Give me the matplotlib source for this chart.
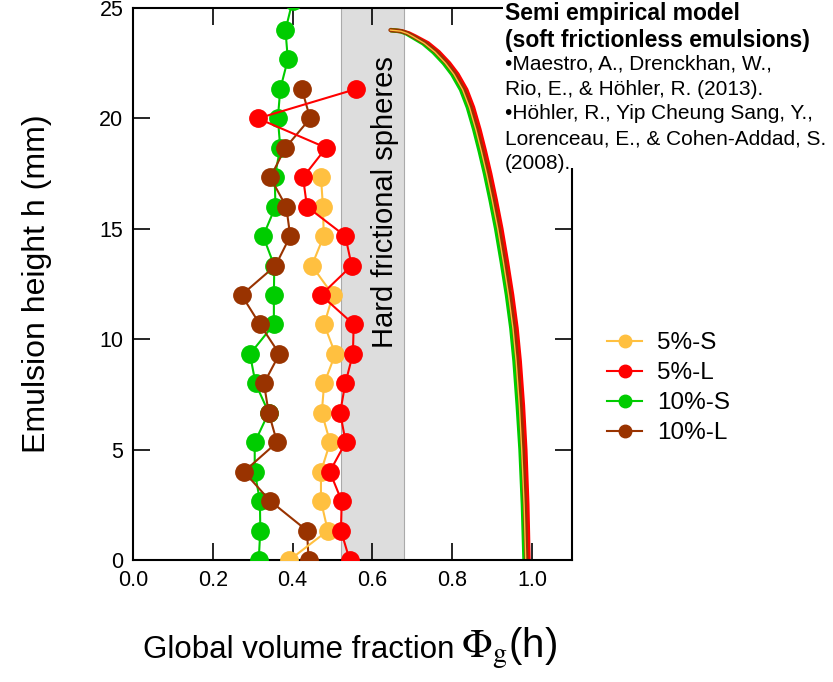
import numpy as np
import matplotlib
matplotlib.use('Agg')
import matplotlib.pyplot as plt
from matplotlib.lines import Line2D
from matplotlib.patches import Rectangle

plt.rcParams['font.family'] = ['Liberation Sans', 'DejaVu Sans']
plt.rcParams['mathtext.fontset'] = 'stix'

# measured heights (mm), one point every 4/3 mm
H = [0.0, 1.33, 2.67, 4.0, 5.33, 6.67, 8.0, 9.33, 10.67, 12.0, 13.33, 14.67,
     16.0, 17.33, 18.67, 20.0, 21.33, 22.67, 24.0, 25.33]

PHI_5S = [0.392, 0.488, 0.471, 0.471, 0.494, 0.473, 0.479, 0.507, 0.479, 0.501,
          0.448, 0.478, 0.476, 0.471]
PHI_5L = [0.543, 0.521, 0.523, 0.493, 0.533, 0.519, 0.532, 0.551, 0.553, 0.471,
          0.548, 0.532, 0.436, 0.426, 0.484, 0.313, 0.559]
PHI_10S = [0.315, 0.319, 0.318, 0.305, 0.305, 0.340, 0.307, 0.293, 0.353, 0.353,
           0.354, 0.326, 0.357, 0.355, 0.369, 0.363, 0.369, 0.388, 0.382, 0.400]
PHI_10L = [0.440, 0.436, 0.344, 0.278, 0.361, 0.340, 0.328, 0.367, 0.318, 0.272,
           0.357, 0.394, 0.384, 0.344, 0.382, 0.444, 0.423]

# semi empirical model curves
H_MODEL = [24.0, 23.95, 23.85, 23.7, 23.4, 23.0, 22.5, 22.0, 21.3, 20.5, 19.5,
           18.5, 17.5, 16.3, 15.0, 13.5, 12.0, 10.5, 9.0, 7.0, 5.0, 2.5, 0.0]
MOD_10L = [0.645, 0.672, 0.688, 0.704, 0.733, 0.760, 0.786, 0.807, 0.829, 0.846,
           0.862, 0.876, 0.889, 0.903, 0.917, 0.931, 0.944, 0.955, 0.963, 0.971,
           0.977, 0.982, 0.986]
MOD_5L = [0.645, 0.673, 0.691, 0.708, 0.739, 0.766, 0.792, 0.813, 0.835, 0.852,
          0.868, 0.882, 0.895, 0.909, 0.923, 0.937, 0.950, 0.961, 0.969, 0.977,
          0.983, 0.988, 0.991]
MOD_10S = [0.645, 0.670, 0.685, 0.699, 0.727, 0.753, 0.779, 0.800, 0.822, 0.839,
           0.855, 0.869, 0.882, 0.896, 0.910, 0.924, 0.937, 0.948, 0.956, 0.964,
           0.971, 0.977, 0.981]
MOD_5S = [0.645, 0.671, 0.687, 0.702, 0.730, 0.757, 0.783, 0.804, 0.826, 0.843,
          0.859, 0.873, 0.886, 0.900, 0.914, 0.928, 0.941, 0.952, 0.960, 0.968,
          0.974, 0.980, 0.984]

LABELS = ['5%-S', '5%-L', '10%-S', '10%-L']
COLORS = ['#ffc040', '#ff0000', '#00cc00', '#993300']

fig = plt.figure(figsize=(8.33, 6.82), dpi=100)
ax = fig.add_axes([133/833, 1-560/682, (572-133)/833, (560-8)/682])

# hard frictional spheres band
ax.axvspan(0.52, 0.68, facecolor='#dddddd', edgecolor='#aaaaaa', lw=0.8, zorder=0)
ax.text(0.632, 16.2, 'Hard frictional spheres', rotation=90, ha='center', va='center',
        fontsize=21, zorder=1)

# model curves
ax.plot(MOD_5L, H_MODEL, color=COLORS[1], lw=3.2, zorder=2, solid_capstyle='butt')
ax.plot(MOD_10S, H_MODEL, color=COLORS[2], lw=3.2, zorder=2, solid_capstyle='butt')
ax.plot(MOD_10L, H_MODEL, color=COLORS[3], lw=3.0, zorder=2, solid_capstyle='round')
ax.plot(MOD_5S, H_MODEL, color=COLORS[0], lw=1.0, zorder=2)

# measurements
series = [PHI_5S, PHI_5L, PHI_10S, PHI_10L]
for i in [2, 3, 0, 1]:
    phi = series[i]
    ax.plot(phi, H[:len(phi)], color=COLORS[i], lw=1.5, marker='o', ms=12.5,
            mec=COLORS[i], mfc=COLORS[i], zorder=3)

ax.set_xlim(0, 1.1)
ax.set_ylim(0, 25)
ax.set_xticks([0.0, 0.2, 0.4, 0.6, 0.8, 1.0])
ax.set_xticklabels(['0.0', '0.2', '0.4', '0.6', '0.8', '1.0'])
ax.set_yticks([0, 5, 10, 15, 20, 25])
ax.tick_params(direction='in', length=12, width=1.2, labelsize=15.5, top=True, right=True,
               pad=7)
for s in ax.spines.values():
    s.set_linewidth(1.5)

ax.set_ylabel('Emulsion height h (mm)', fontsize=23, labelpad=34)
fig.text(143/833, 1-658/682, 'Global volume fraction', fontsize=22.5, ha='left', va='baseline')
fig.text(461/833, 1-658/682, r'$\Phi_{\mathrm{g}}$(h)', fontsize=29, ha='left', va='baseline')

# white block for the model reference (covers the top-right corner of the frame)
fig.add_artist(Rectangle((503/833, 1-168/682), 330/833, 168/682, transform=fig.transFigure,
                         facecolor='white', edgecolor='none', zorder=2))
fig.text(505/833, 1-2/682, 'Semi empirical model\n(soft frictionless emulsions)',
         fontsize=16.5, fontweight='bold', ha='left', va='top', linespacing=1.2, zorder=3)
fig.text(505/833, 1-55/682,
         '\u2022Maestro, A., Drenckhan, W.,\nRio, E., & H\u00f6hler, R. (2013).\n'
         '\u2022H\u00f6hler, R., Yip Cheung Sang, Y.,\nLorenceau, E., & Cohen-Addad, S.\n(2008).',
         fontsize=15, ha='left', va='top', linespacing=1.38, zorder=3)

handles = [Line2D([0], [0], color=c, lw=1.5, marker='o', ms=9, mec=c, mfc=c) for c in COLORS]
fig.legend(handles, LABELS, loc='upper left', bbox_to_anchor=(607/833, 1-332/682),
           frameon=False, fontsize=17.5, handlelength=1.45, handletextpad=0.6,
           labelspacing=0.33, borderpad=0, borderaxespad=0)

fig.savefig('out.png', dpi=100)
